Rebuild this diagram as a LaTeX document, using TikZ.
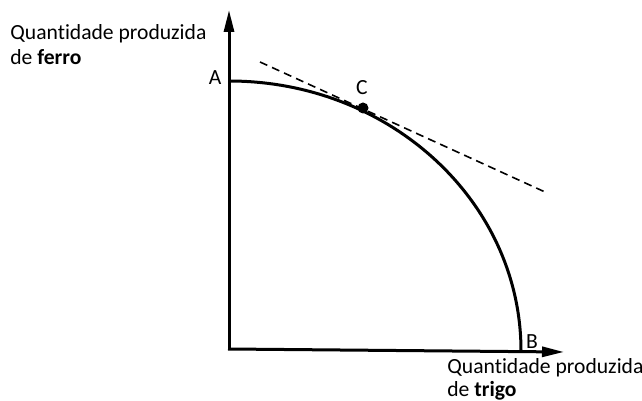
\documentclass[tikz,border=0pt]{standalone}
\usepackage{fontspec}
\setmainfont{Carlito}[Ligatures=NoCommon]
\usetikzlibrary{arrows.meta,positioning}

\tikzset{
 axis/.style = {line width=1.5pt, -{Triangle[length=11pt,width=5pt]}},
 curve/.style = {line width=1.5pt},
 tangent/.style = {line width=0.8pt, dash pattern=on 4pt off 2.6pt},
 lbl/.style = {inner sep=0pt, font=\fontsize{10.8}{12.5}\selectfont},
 axislbl/.style = {lbl, align=left, anchor=north west}
}

\begin{document}
\begin{tikzpicture}[x=0.5pt, y=0.5pt]
 \useasboundingbox (0,0) rectangle (642,401);
 \coordinate (O) at (229,51);
 \coordinate (ytop) at (229,391);
 \coordinate (xstart) at (228,52);
 \coordinate (xend) at (564,49);
 \draw[axis] (O) -- (ytop);
 \draw[axis] (xstart) -- (xend);
 \coordinate (A) at (229,320);
 \draw[curve] (A) arc[start angle=90, end angle=0, x radius=292, y radius=270] coordinate (B);
 \coordinate (t1) at (260,339);
 \coordinate (t2) at (545,209);
 \draw[tangent] (t1) -- (t2);
 \fill (363,293) coordinate (C) circle[radius=5.5];
 \node[lbl] (lA) at (215,323) {A};
 \node[lbl] (lB) at (532,59) {B};
 \node[lbl] (lC) at (362,313) {C};
 \node[axislbl] (yl) at (10,377) {Quantidade produzida\\de \textbf{ferro}};
 \node[axislbl, font=\fontsize{10.8}{11.6}\selectfont] (xl) at (447,43) {Quantidade produzida\\de \textbf{trigo}};
\end{tikzpicture}
\end{document}
